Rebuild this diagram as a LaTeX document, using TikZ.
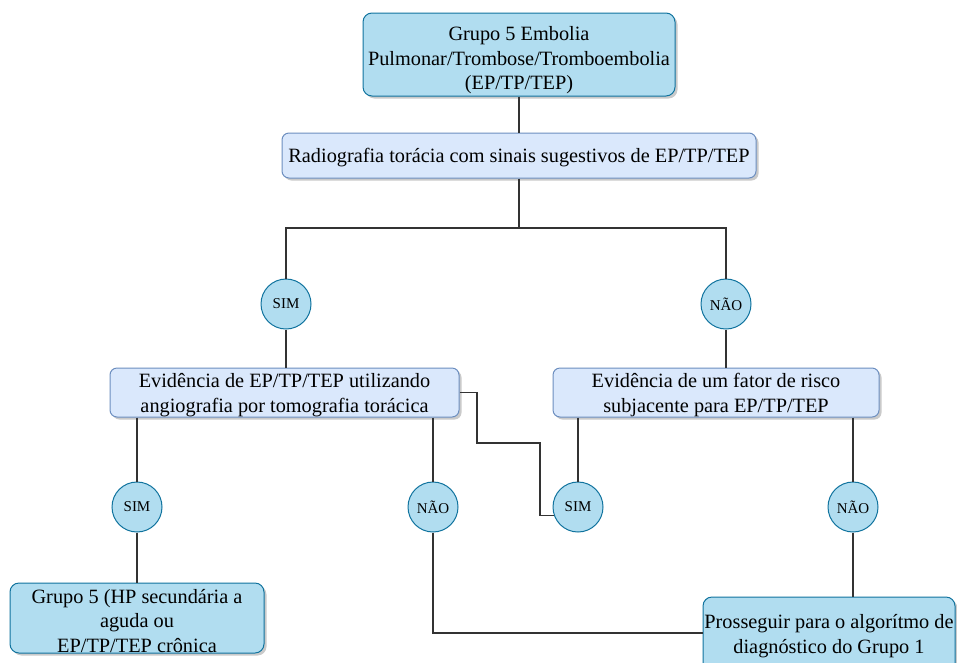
\documentclass[tikz,border=0pt]{standalone}
\usepackage{fontspec}
\setmainfont{Liberation Serif}
\usetikzlibrary{shadows}
\definecolor{blueA}{HTML}{B1DDF0}
\definecolor{blueAline}{HTML}{10739E}
\definecolor{blueB}{HTML}{DAE8FC}
\definecolor{blueBline}{HTML}{6C8EBF}
\definecolor{wire}{HTML}{333333}
\begin{document}
\begin{tikzpicture}[x=1pt,y=-1pt,
  shade/.style={drop shadow={shadow xshift=2.5pt,shadow yshift=-2.5pt,opacity=0.35,fill=black!60}},
  boxA/.style={draw=blueAline,fill=blueA,rounded corners=9pt,line width=1pt,inner sep=0pt,shade},
  boxB/.style={draw=blueBline,fill=blueB,rounded corners=7pt,line width=1pt,inner sep=0pt,shade},
  txt/.style={align=center,inner sep=0pt,font=\fontsize{20.3}{24.5}\selectfont},
  answer/.style={circle,draw=blueAline,fill=blueA,line width=1pt,minimum size=50pt,
    inner sep=0pt,font=\fontsize{15}{17}\selectfont},
  link/.style={draw=wire,line width=1.2pt}]
\useasboundingbox (0,0) rectangle (957,662);

% boxes
\node[boxA,minimum width=312pt,minimum height=83pt] (top) at (519,54.5) {};
\node[boxB,minimum width=474pt,minimum height=45pt] (rad) at (519,155.5) {};
\node[boxB,minimum width=349pt,minimum height=49pt] (evid) at (284.5,392.5) {};
\node[boxB,minimum width=326pt,minimum height=49pt] (risk) at (716,392.5) {};
\node[boxA,minimum width=254pt,minimum height=70pt] (g5) at (137,618) {};
\node[boxA,minimum width=252pt,minimum height=78pt] (pros) at (829,636) {};

% box texts
\node[txt] (topT) at ([yshift=-6pt]top.center)
  {Grupo 5 Embolia\\Pulmonar/Trombose/Tromboembolia\\(EP/TP/TEP)};
\node[txt] (radT) at ([yshift=-2pt]rad.center)
  {Radiografia torácia com sinais sugestivos de EP/TP/TEP};
\node[txt] (evidT) at ([yshift=-2.5pt]evid.center)
  {Evidência de EP/TP/TEP utilizando\\angiografia por tomografia torácica};
\node[txt] (riskT) at ([yshift=-2.5pt]risk.center)
  {Evidência de um fator de risco\\subjacente para EP/TP/TEP};
\node[txt] (g5T) at ([yshift=-3pt]g5.center)
  {Grupo 5 (HP secundária a\\aguda ou\\EP/TP/TEP crônica};
\node[txt] (prosT) at (pros.center)
  {Prosseguir para o algorítmo de\\diagnóstico do Grupo 1};

% answer circles
\node[answer] (sim1) at (286,304) {SIM};
\node[answer] (nao1) at (726,304) {NÃO};
\node[answer] (sim2) at (137,507) {SIM};
\node[answer] (nao2) at (433,507) {NÃO};
\node[answer] (sim3) at (578,507) {SIM};
\node[answer] (nao3) at (853,507) {NÃO};

% junction points
\coordinate (j1) at (519,228);
\coordinate (c1) at (477,443);
\coordinate (c2) at (540,443);
\coordinate (c3) at (829,633);

% connectors
\begin{scope}[link]
\draw (top.south) -- (rad.north);
\draw (rad.south) -- (j1);
\draw (sim1.north) |- (j1) -| (nao1.north);
\draw (sim1.south) -- (sim1.south |- evid.north);
\draw (nao1.south) -- (nao1.south |- risk.north);
\draw (evid.south -| sim2) -- (sim2.north);
\draw (evid.south -| nao2) -- (nao2.north);
\draw (evid.east) -| (c1) -- (c2) |- (sim3.199);
\draw (risk.south -| sim3) -- (sim3.north);
\draw (risk.south -| nao3) -- (nao3.north);
\draw (sim2.south) -- (sim2.south |- g5.north);
\draw (nao3.south) -- (nao3.south |- pros.north);
\draw (nao2.south) |- (pros.west |- c3);
\end{scope}
\end{tikzpicture}
\end{document}
